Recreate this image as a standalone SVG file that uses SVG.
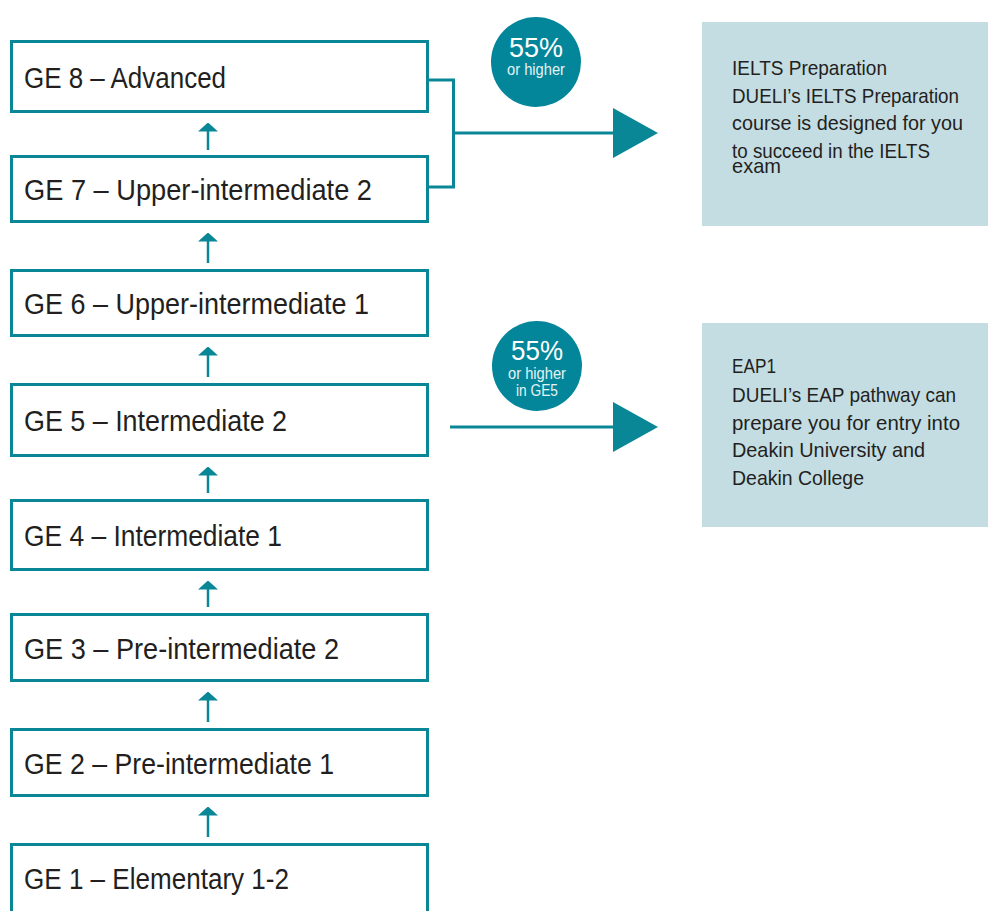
<svg xmlns="http://www.w3.org/2000/svg" width="988" height="911" viewBox="0 0 988 911">
<style>
.box{fill:#ffffff;stroke:#0a8797;stroke-width:3}
.lbl{font-family:"Liberation Sans",Arial,sans-serif;font-size:30px;fill:#231f20}
.info{fill:#c3dde3}
.itxt{font-family:"Liberation Sans",Arial,sans-serif;font-size:21px;fill:#231f20}
.badge{fill:#03869a}
.b1{font-family:"Liberation Sans",Arial,sans-serif;font-size:27px;fill:#ffffff;text-anchor:middle}
.b2{font-family:"Liberation Sans",Arial,sans-serif;font-size:16px;fill:#e6f3f5;text-anchor:middle}
.con{stroke:#0a8797;fill:none}
.head{fill:#0a8797}
</style>
<defs>
<marker id="up" viewBox="0 0 9 20" refX="0.5" refY="10" markerWidth="9" markerHeight="20" markerUnits="userSpaceOnUse" orient="auto">
<path d="M0,0 L9,10 L0,20 z" fill="#0a8797"/>
</marker>
</defs>

<g id="ge8"><rect class="box" x="11.5" y="41.5" width="416" height="70"/><text class="lbl" x="24" y="88" textLength="202" lengthAdjust="spacingAndGlyphs">GE 8 – Advanced</text></g>
<g id="ge7"><rect class="box" x="11.5" y="156.5" width="416" height="65"/><text class="lbl" x="24" y="200" textLength="348" lengthAdjust="spacingAndGlyphs">GE 7 – Upper-intermediate 2</text></g>
<g id="ge6"><rect class="box" x="11.5" y="270.5" width="416" height="65"/><text class="lbl" x="24" y="314" textLength="345" lengthAdjust="spacingAndGlyphs">GE 6 – Upper-intermediate 1</text></g>
<g id="ge5"><rect class="box" x="11.5" y="384.5" width="416" height="71"/><text class="lbl" x="24" y="431" textLength="263" lengthAdjust="spacingAndGlyphs">GE 5 – Intermediate 2</text></g>
<g id="ge4"><rect class="box" x="11.5" y="500.5" width="416" height="69"/><text class="lbl" x="24" y="546" textLength="258" lengthAdjust="spacingAndGlyphs">GE 4 – Intermediate 1</text></g>
<g id="ge3"><rect class="box" x="11.5" y="614.5" width="416" height="66"/><text class="lbl" x="24" y="659" textLength="315" lengthAdjust="spacingAndGlyphs">GE 3 – Pre-intermediate 2</text></g>
<g id="ge2"><rect class="box" x="11.5" y="729.5" width="416" height="66"/><text class="lbl" x="24" y="774" textLength="310" lengthAdjust="spacingAndGlyphs">GE 2 – Pre-intermediate 1</text></g>
<g id="ge1"><rect class="box" x="11.5" y="844.5" width="416" height="80"/><text class="lbl" x="24" y="889" textLength="265" lengthAdjust="spacingAndGlyphs">GE 1 – Elementary 1-2</text></g>

<g id="ielts">
<rect class="info" x="702" y="22" width="286" height="204"/>
<text class="itxt" x="732" y="75" textLength="155" lengthAdjust="spacingAndGlyphs">IELTS Preparation</text>
<text class="itxt" x="732" y="102.5" textLength="227" lengthAdjust="spacingAndGlyphs">DUELI’s IELTS Preparation</text>
<text class="itxt" x="732" y="130" textLength="231" lengthAdjust="spacingAndGlyphs">course is designed for you</text>
<text class="itxt" x="732" y="157.5" textLength="198" lengthAdjust="spacingAndGlyphs">to succeed in the IELTS</text>
<text class="itxt" x="732" y="173" textLength="49" lengthAdjust="spacingAndGlyphs">exam</text>
</g>

<g id="eap1">
<rect class="info" x="702" y="323" width="286" height="204"/>
<text class="itxt" x="732" y="373" textLength="44" lengthAdjust="spacingAndGlyphs">EAP1</text>
<text class="itxt" x="732" y="402" textLength="224" lengthAdjust="spacingAndGlyphs">DUELI’s EAP pathway can</text>
<text class="itxt" x="732" y="429.5" textLength="228" lengthAdjust="spacingAndGlyphs">prepare you for entry into</text>
<text class="itxt" x="732" y="457" textLength="193" lengthAdjust="spacingAndGlyphs">Deakin University and</text>
<text class="itxt" x="732" y="484.5" textLength="132" lengthAdjust="spacingAndGlyphs">Deakin College</text>
</g>

<g id="badge1">
<circle class="badge" cx="536" cy="62" r="45"/>
<text class="b1" x="536" y="57" textLength="54" lengthAdjust="spacingAndGlyphs">55%</text>
<text class="b2" x="536" y="75" textLength="58" lengthAdjust="spacingAndGlyphs">or higher</text>
</g>

<g id="badge2">
<circle class="badge" cx="537" cy="366" r="45"/>
<text class="b1" x="537" y="360" textLength="52" lengthAdjust="spacingAndGlyphs">55%</text>
<text class="b2" x="537" y="378.5" textLength="58" lengthAdjust="spacingAndGlyphs">or higher</text>
<text class="b2" x="537" y="395.5" textLength="42" lengthAdjust="spacingAndGlyphs">in GE5</text>
</g>

<g id="connectors">
<line class="con" stroke-width="2.5" x1="208" y1="150" x2="208" y2="131" marker-end="url(#up)"/>
<line class="con" stroke-width="2.5" x1="208" y1="263" x2="208" y2="241" marker-end="url(#up)"/>
<line class="con" stroke-width="2.5" x1="208" y1="377" x2="208" y2="355" marker-end="url(#up)"/>
<line class="con" stroke-width="2.5" x1="208" y1="493" x2="208" y2="475" marker-end="url(#up)"/>
<line class="con" stroke-width="2.5" x1="208" y1="607" x2="208" y2="589" marker-end="url(#up)"/>
<line class="con" stroke-width="2.5" x1="208" y1="722" x2="208" y2="700" marker-end="url(#up)"/>
<line class="con" stroke-width="2.5" x1="208" y1="837" x2="208" y2="815" marker-end="url(#up)"/>
<path class="con" stroke-width="3" d="M429,80 H453.5 V187 H429"/>
<line class="con" stroke-width="3" x1="453" y1="133" x2="614" y2="133"/>
<polygon class="head" points="613,108 658,133 613,158"/>
<line class="con" stroke-width="3" x1="450" y1="427" x2="614" y2="427"/>
<polygon class="head" points="613,402 658,427 613,452"/>
</g>
</svg>
